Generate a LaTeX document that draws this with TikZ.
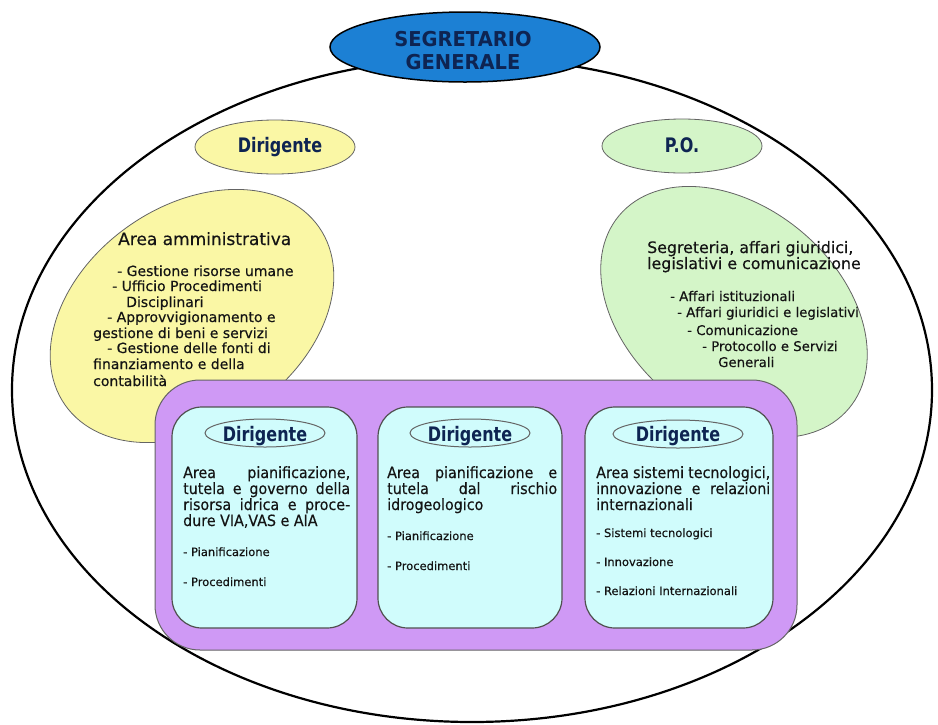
\documentclass[tikz,border=0pt]{standalone}
\usepackage{fontspec}
\setmainfont{DejaVu Sans}[FakeBold=0.4]
\newfontfamily\headfont{DejaVu Sans}[FakeStretch=0.8]
\newfontfamily\titlefont{DejaVu Sans}[FakeStretch=0.95]
\newfontfamily\boxfont{DejaVu Sans}[FakeStretch=0.92,FakeBold=0.3]
\usetikzlibrary{shapes.geometric}
\definecolor{segblue}{RGB}{28,128,212}
\definecolor{navy}{RGB}{14,36,82}
\definecolor{yellowf}{RGB}{250,247,165}
\definecolor{greenf}{RGB}{212,245,200}
\definecolor{violetf}{RGB}{207,153,245}
\definecolor{cyanf}{RGB}{208,252,252}
\definecolor{edgegray}{RGB}{100,100,100}
\definecolor{txt}{RGB}{20,20,20}
\begin{document}
\begin{tikzpicture}[x=1pt,y=-1pt,
  outerring/.style={ellipse, draw=black, line width=2.2pt, minimum width=920pt, minimum height=664pt, inner sep=0pt},
  topell/.style={ellipse, draw=black, line width=1.5pt, fill=segblue, minimum width=270pt, minimum height=70pt, inner sep=0pt},
  roleell/.style={ellipse, draw=edgegray, line width=0.8pt, minimum width=160pt, minimum height=54pt, inner sep=0pt},
  areaell/.style={ellipse, draw=edgegray, line width=0.8pt, inner sep=0pt},
  purplebox/.style={rectangle, rounded corners=45pt, draw=edgegray, fill=violetf, line width=1pt, minimum width=642pt, minimum height=270pt, inner sep=0pt},
  cyanbox/.style={rectangle, rounded corners=30pt, draw=edgegray!80!black, fill=cyanf, line width=1.2pt, minimum height=221pt, inner sep=0pt},
  direll/.style={ellipse, draw=edgegray, line width=1pt, fill=cyanf, minimum height=28pt, inner sep=0pt},
  titletxt/.style={font=\titlefont\bfseries\fontsize{20.5}{22}\selectfont, text=navy, inner sep=0pt, anchor=base},
  roletxt/.style={font=\headfont\bfseries\fontsize{20}{22}\selectfont, text=navy, inner sep=0pt, anchor=base},
  areahead/.style={font=\fontsize{17}{18}\selectfont, text=txt, inner sep=0pt, anchor=base west},
  greenhead/.style={font=\fontsize{15.8}{17}\selectfont, text=txt, inner sep=0pt, anchor=base west},
  amtxt/.style={font=\fontsize{14}{15}\selectfont, text=txt, inner sep=0pt, anchor=base west},
  grtxt/.style={font=\fontsize{13.3}{15}\selectfont, text=txt, inner sep=0pt, anchor=base west},
  boxtxt/.style={font=\boxfont\fontsize{15.5}{16}\selectfont, text=txt, inner sep=0pt, anchor=base west},
  subtxt/.style={font=\fontsize{11.5}{12}\selectfont, text=txt, inner sep=0pt, anchor=base west}
]
\useasboundingbox (0,0) rectangle (938,724);

% outer ring and secretary
\node[outerring] (outer) at (472,390) {};
\node[topell] (seg) at (465,47) {};
\node[titletxt] (segA) at (463,46.5) {SEGRETARIO};
\node[titletxt] (segB) at (463,69.5) {GENERALE};

% role ellipses
\node[roleell, fill=yellowf] (dirY) at (275,147) {};
\node[roletxt] (dirYt) at (280,152) {Dirigente};
\node[roleell, fill=greenf] (po) at (682,146) {};
\node[roletxt] (pot) at (682,152) {P.O.};

% area ellipses
\node[areaell, fill=yellowf, minimum width=310pt, minimum height=220pt, rotate=35] (amm) at (192,316) {};
\node[areaell, fill=greenf, minimum width=300pt, minimum height=210pt, rotate=-40] (seg2) at (734,312) {};

% purple container and cyan boxes
\node[purplebox] (cont) at (476,515) {};
\node[cyanbox, minimum width=185pt] (b1) at (264.5,517.5) {};
\node[cyanbox, minimum width=184pt] (b2) at (470,517.5) {};
\node[cyanbox, minimum width=188pt] (b3) at (679,517.5) {};
\node[direll, minimum width=120pt] (d1) at (265,433) {};
\node[direll, minimum width=120pt] (d2) at (470,433) {};
\node[direll, minimum width=130pt] (d3) at (678,434) {};
\node[roletxt] (d1t) at (265,441) {Dirigente};
\node[roletxt] (d2t) at (470,441) {Dirigente};
\node[roletxt] (d3t) at (678,441) {Dirigente};

% Area amministrativa text
\node[areahead] (amh) at (118,245) {Area amministrativa};
\foreach \yy/\xx/\tt [count=\i] in {
  276/117/{- Gestione risorse umane},
  291/112/{- Ufficio Procedimenti},
  307/126/{Disciplinari},
  322/107/{- Approvvigionamento e},
  338/93/{gestione di beni e servizi},
  353/107/{- Gestione delle fonti di},
  369/93/{finanziamento e della},
  386/93/{contabilità}}
  \node[amtxt] (am\i) at (\xx,\yy) {\tt};

% Segreteria text
\node[greenhead] (grh1) at (647,253) {Segreteria, affari giuridici,};
\node[greenhead] (grh2) at (647,269) {legislativi e comunicazione};
\foreach \yy/\xx/\tt [count=\i] in {
  301/670/{- Affari istituzionali},
  317/677/{- Affari giuridici e legislativi},
  335/687/{- Comunicazione},
  351/702/{- Protocollo e Servizi},
  367/718/{Generali}}
  \node[grtxt] (gr\i) at (\xx,\yy) {\tt};

% Box 1
\node[boxtxt] (b1l1) at (183,478) {\makebox[167pt][s]{Area pianificazione,}};
\node[boxtxt] (b1l2) at (183,494) {\makebox[167pt][s]{tutela e governo della}};
\node[boxtxt] (b1l3) at (183,510) {\makebox[167pt][s]{risorsa idrica e proce-}};
\node[boxtxt] (b1l4) at (183,526) {dure VIA,VAS e AIA};
\node[subtxt] (b1s1) at (183,556) {- Pianificazione};
\node[subtxt] (b1s2) at (183,586) {- Procedimenti};

% Box 2
\node[boxtxt] (b2l1) at (387,478) {\makebox[170pt][s]{Area pianificazione e}};
\node[boxtxt] (b2l2) at (387,494) {\makebox[170pt][s]{tutela dal rischio}};
\node[boxtxt] (b2l3) at (387,510) {idrogeologico};
\node[subtxt] (b2s1) at (387,540) {- Pianificazione};
\node[subtxt] (b2s2) at (387,570) {- Procedimenti};

% Box 3
\node[boxtxt] (b3l1) at (596,478) {\makebox[174pt][s]{Area sistemi tecnologici,}};
\node[boxtxt] (b3l2) at (596,494) {\makebox[174pt][s]{innovazione e relazioni}};
\node[boxtxt] (b3l3) at (596,510) {internazionali};
\node[subtxt] (b3s1) at (596,537) {- Sistemi tecnologici};
\node[subtxt] (b3s2) at (596,566) {- Innovazione};
\node[subtxt] (b3s3) at (596,595) {- Relazioni Internazionali};
\end{tikzpicture}
\end{document}
